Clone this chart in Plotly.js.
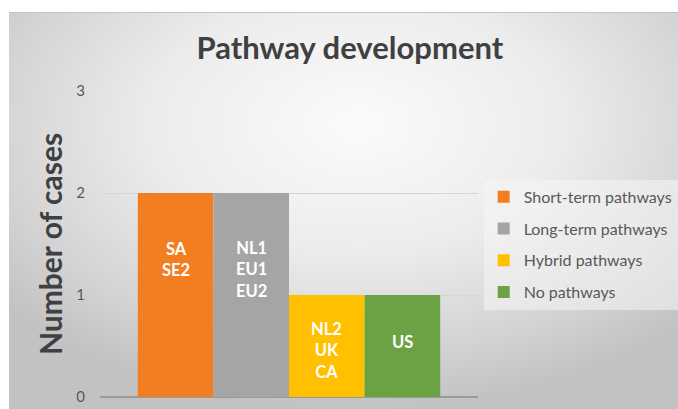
<!DOCTYPE html>
<html>
<head>
<meta charset="utf-8">
<script src="https://cdn.plot.ly/plotly-3.0.1.min.js"></script>
<style>
  html, body { margin: 0; padding: 0; background: #ffffff; }
  #wrap { position: relative; width: 678px; height: 409px; overflow: hidden; }
  #bg { position: absolute; left: 9px; top: 12px; width: 669px; height: 397px;
        border-top: 1px solid #c4c4c4;
        background: radial-gradient(ellipse 68% 72% at 52% 28%, #fbfbfb 0%, #ececec 45%, #d3d3d3 80%, #c2c2c2 100%); }
  #chart { position: absolute; left: 0; top: 0; width: 678px; height: 409px; }
</style>
</head>
<body>
<div id="wrap">
  <div id="bg"></div>
  <div id="chart"></div>
</div>
<script>
// ---- data ----
const seriesNames = ["Short-term pathways", "Long-term pathways", "Hybrid pathways", "No pathways"];
const seriesValues = [2, 2, 1, 1];
const seriesColors = ["#F37E22", "#A5A5A5", "#FFC000", "#6BA344"];
const barLabels = ["SA<br>SE2", "NL1<br>EU1<br>EU2", "NL2<br>UK<br>CA", "US"];
const labelY = [1.35, 1.25, 0.46, 0.54];
const yTicks = [0, 1, 2, 3];

const bargap = 0.2;
const n = seriesNames.length;
const slot = (1 - bargap) / n;

const traces = seriesNames.map((name, i) => ({
  type: "bar",
  name: name,
  x: [0],
  y: [seriesValues[i]],
  marker: { color: seriesColors[i] },
  legendgroup: "g" + i,
  hoverinfo: "skip"
}));

const annotations = barLabels.map((t, i) => ({
  x: -(1 - bargap) / 2 + slot * (i + 0.5),
  y: labelY[i],
  xref: "x", yref: "y",
  text: "<b>" + t + "</b>",
  showarrow: false,
  font: { family: "Lato, 'Open Sans', sans-serif", size: 16.5, color: "#ffffff" },
  align: "center"
}));

const layout = {
  width: 678, height: 409,
  paper_bgcolor: "rgba(0,0,0,0)",
  plot_bgcolor: "rgba(0,0,0,0)",
  margin: { l: 100, r: 200, t: 91, b: 12, autoexpand: false },
  barmode: "group",
  bargap: bargap,
  bargroupgap: 0,
  title: {
    text: "<b>Pathway development</b>",
    font: { family: "Lato, 'Open Sans', sans-serif", size: 31, color: "#404040" },
    x: 0.516, xanchor: "center", y: 0.882, yanchor: "middle"
  },
  xaxis: {
    type: "linear", range: [-0.5, 0.5],
    showticklabels: false, showgrid: false, zeroline: false, ticks: ""
  },
  yaxis: {
    range: [0, 3], tickvals: yTicks,
    showgrid: true, gridcolor: "#d6d6d6", gridwidth: 1,
    zeroline: true, zerolinecolor: "#9a9a9a", zerolinewidth: 1.5,
    showline: false, ticks: "", ticklabelstandoff: 14,
    tickfont: { family: "Lato, 'Open Sans', sans-serif", size: 15, color: "#595959" },
    title: {
      text: "<b>Number of cases</b>",
      font: { family: "Lato, 'Open Sans', sans-serif", size: 30, color: "#404040" },
      standoff: 4
    }
  },
  legend: {
    x: 1.015, xanchor: "left", y: 0.71, yanchor: "top",
    bgcolor: "rgba(245,245,245,0.55)",
    font: { family: "Lato, 'Open Sans', sans-serif", size: 16, color: "#595959" },
    tracegroupgap: 8,
    traceorder: "grouped"
  },
  annotations: annotations,
  showlegend: true
};

Plotly.newPlot("chart", traces, layout, { displayModeBar: false, staticPlot: true });
</script>
</body>
</html>
